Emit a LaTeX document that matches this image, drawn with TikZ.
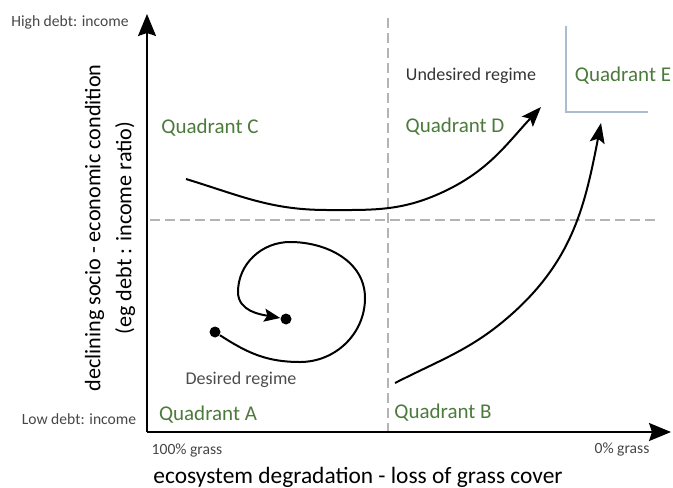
\documentclass[tikz,border=0pt]{standalone}
\usepackage{fontspec}
\setmainfont{Carlito}
\usetikzlibrary{arrows.meta}
\definecolor{quadgreen}{RGB}{76,122,60}
\definecolor{labelgray}{RGB}{70,70,70}
\definecolor{dashgray}{RGB}{180,180,180}
\definecolor{boxblue}{RGB}{172,188,208}

\begin{document}
\begin{tikzpicture}[x=0.5pt,y=-0.5pt,
    axis/.style={line width=0.9pt,-{Stealth[length=11pt,width=9pt,inset=1.5pt]}},
    trend/.style={line width=1pt,-{Stealth[length=10pt,width=7.5pt,inset=2pt]}},
    guide/.style={dashgray,line width=0.6pt,dash pattern=on 5pt off 2.5pt},
    quad/.style={text=quadgreen,font=\fontsize{10.5}{13}\selectfont},
    small/.style={text=labelgray,font=\fontsize{7.8}{9}\selectfont},
    regime/.style={text=black!80,font=\fontsize{9}{11}\selectfont},
    dot/.style={circle,fill,inner sep=0pt,minimum size=5.5pt}]
    \useasboundingbox (0,0) rectangle (673,487);
    % axes
    \coordinate (o) at (147,432);
    \coordinate (ytop) at (147,14);
    \coordinate (xend) at (671,432);
    % dashed quadrant borders
    \coordinate (vtop) at (388,18);
    \coordinate (vbot) at (388,432);
    \coordinate (hl) at (150,220);
    \coordinate (hr) at (655,220);
    \draw[guide] (vtop) -- (vbot);
    \draw[guide] (hl) -- (hr);
    \draw[axis] (o) -- (ytop);
    \draw[axis] (o) -- (xend);
    % corner of quadrant E
    \coordinate (e1) at (566,26);
    \coordinate (e3) at (648,112);
    \draw[boxblue,line width=0.8pt] (e1) |- (e3);
    % axis texts
    \node[small] (high) at (70,22) {High debt: income};
    \node[small] (low) at (79,419) {Low debt: income};
    \node[small] (full) at (187,451) {100\% grass};
    \node[small] (none) at (622,450) {0\% grass};
    \node[font=\fontsize{11.7}{14}\selectfont] (xlab) at (358,477)
        {ecosystem degradation - loss of grass cover};
    \node[rotate=90,align=center,font=\fontsize{11.1}{15.5}\selectfont] (ylab) at (110,228)
        {declining socio - economic condition\\(eg debt : income ratio)};
    % quadrants
    \node[quad] (qa) at (208,415) {Quadrant A};
    \node[quad] (qb) at (443,413) {Quadrant B};
    \node[quad] (qc) at (210,128) {Quadrant C};
    \node[quad] (qd) at (455,127) {Quadrant D};
    \node[quad] (qe) at (623,76) {Quadrant E};
    \node[regime] (undes) at (471,76) {Undesired regime};
    \node[regime,text=black!70] (des) at (241,380) {Desired regime};
    % C -> D
    \coordinate (c1s) at (186,179);
    \coordinate (c1m) at (327,210);
    \coordinate (c1n) at (443,192);
    \coordinate (c1e) at (541,107);
    \draw[trend] (c1s) to[out=-17,in=180] (c1m) to[out=0,in=-155] (c1n)
        to[out=25,in=-133] (c1e);
    % B -> E
    \coordinate (c2s) at (395,383);
    \coordinate (c2m) at (513,313);
    \coordinate (c2e) at (601,123);
    \draw[trend] (c2s) to[out=27,in=-138] (c2m) to[out=42,in=-101] (c2e);
    % spiral in A
    \node[dot] (spa) at (215,332) {};
    \node[dot] (spb) at (286,319) {};
    \coordinate (sp1) at (300,362);
    \coordinate (sp2) at (365,298);
    \coordinate (sp3) at (290,242);
    \coordinate (sp4) at (238,292);
    \draw[line width=1pt,-{Stealth[length=8pt,width=6.5pt,inset=1.5pt]}]
        (spa) to[out=-33,in=180] (sp1) to[out=0,in=-90] (sp2)
        to[out=90,in=0] (sp3) to[out=180,in=90] (sp4)
        to[out=-90,in=170] (spb);
\end{tikzpicture}
\end{document}
